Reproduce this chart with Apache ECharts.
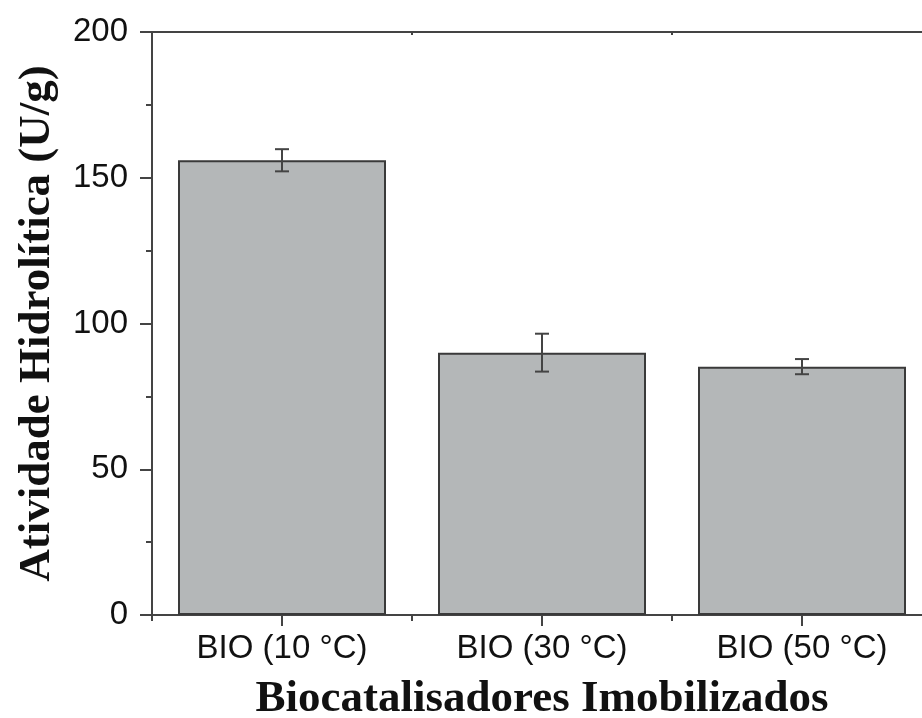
<!DOCTYPE html>
<html>
<head>
<meta charset="utf-8">
<script src="https://cdn.jsdelivr.net/npm/echarts@6/dist/echarts.min.js"></script>
<style>html,body{margin:0;padding:0;background:#fff;}#c{width:922px;height:718px;}</style>
</head>
<body>
<div id="c"></div>
<script>
const categories = ['BIO (10 °C)', 'BIO (30 °C)', 'BIO (50 °C)'];
const activity = [156, 90, 85.2];
const errors = [3.8, 6.5, 2.6];
const yTicks = [0, 50, 100, 150, 200];

const errData = categories.map((c, i) => [i, activity[i] - errors[i], activity[i] + errors[i]]);

const chart = echarts.init(document.getElementById('c'));
const tickFont = { fontFamily: 'Liberation Sans', fontSize: 33, color: '#111' };
const axisLineStyle = { color: '#444', width: 2 };

chart.setOption({
  animation: false,
  grid: { left: 152, right: -10, top: 32, bottom: 103, containLabel: false, outerBoundsMode: 'none' },
  xAxis: [
    {
      type: 'category', data: categories, position: 'bottom',
      axisLine: { show: true, lineStyle: axisLineStyle },
      axisTick: { show: true, alignWithLabel: true, length: 11, lineStyle: { color: '#444', width: 2 } },
      axisLabel: Object.assign({ margin: 17, interval: 0 }, tickFont),
      name: 'Biocatalisadores Imobilizados', nameLocation: 'middle', nameGap: 62,
      nameTextStyle: { fontFamily: 'Liberation Serif', fontWeight: 'bold', fontSize: 45, color: '#111' },
      splitLine: { show: false }
    },
    {
      type: 'category', data: categories, position: 'bottom',
      axisLine: { show: false },
      axisTick: { show: true, length: 6, lineStyle: { color: '#444', width: 2 } },
      axisLabel: { show: false }, splitLine: { show: false }
    },
    {
      type: 'category', data: categories, position: 'top',
      axisLine: { show: true, lineStyle: axisLineStyle },
      axisTick: { show: true, inside: true, length: 3, lineStyle: { color: '#444', width: 2 } },
      axisLabel: { show: false }, splitLine: { show: false }
    }
  ],
  yAxis: {
    type: 'value', min: yTicks[0], max: yTicks[yTicks.length - 1], interval: 50,
    axisLine: { show: true, lineStyle: axisLineStyle },
    axisTick: { show: true, length: 12, lineStyle: { color: '#444', width: 2 } },
    minorTick: { show: true, splitNumber: 2, length: 6, lineStyle: { color: '#444', width: 2 } },
    axisLabel: Object.assign({ margin: 24 }, tickFont),
    splitLine: { show: false },
    name: 'Atividade Hidrolítica (U/g)', nameLocation: 'middle', nameGap: 92, nameRotate: 90,
    nameTextStyle: { fontFamily: 'Liberation Serif', fontWeight: 'bold', fontSize: 45, color: '#111' }
  },
  series: [
    {
      type: 'bar', data: activity, barWidth: '80%', xAxisIndex: 0,
      itemStyle: { color: '#b4b7b8', borderColor: '#3a3a3a', borderWidth: 2 }
    },
    {
      type: 'custom', xAxisIndex: 0, data: errData, z: 10,
      renderItem: function (params, api) {
        const x = api.value(0);
        const lo = api.coord([x, api.value(1)]);
        const hi = api.coord([x, api.value(2)]);
        const hw = 7;
        const st = { stroke: '#444', lineWidth: 2 };
        return {
          type: 'group',
          children: [
            { type: 'line', shape: { x1: lo[0], y1: lo[1], x2: hi[0], y2: hi[1] }, style: st },
            { type: 'line', shape: { x1: hi[0] - hw, y1: hi[1], x2: hi[0] + hw, y2: hi[1] }, style: st },
            { type: 'line', shape: { x1: lo[0] - hw, y1: lo[1], x2: lo[0] + hw, y2: lo[1] }, style: st }
          ]
        };
      }
    }
  ]
});
</script>
</body>
</html>
